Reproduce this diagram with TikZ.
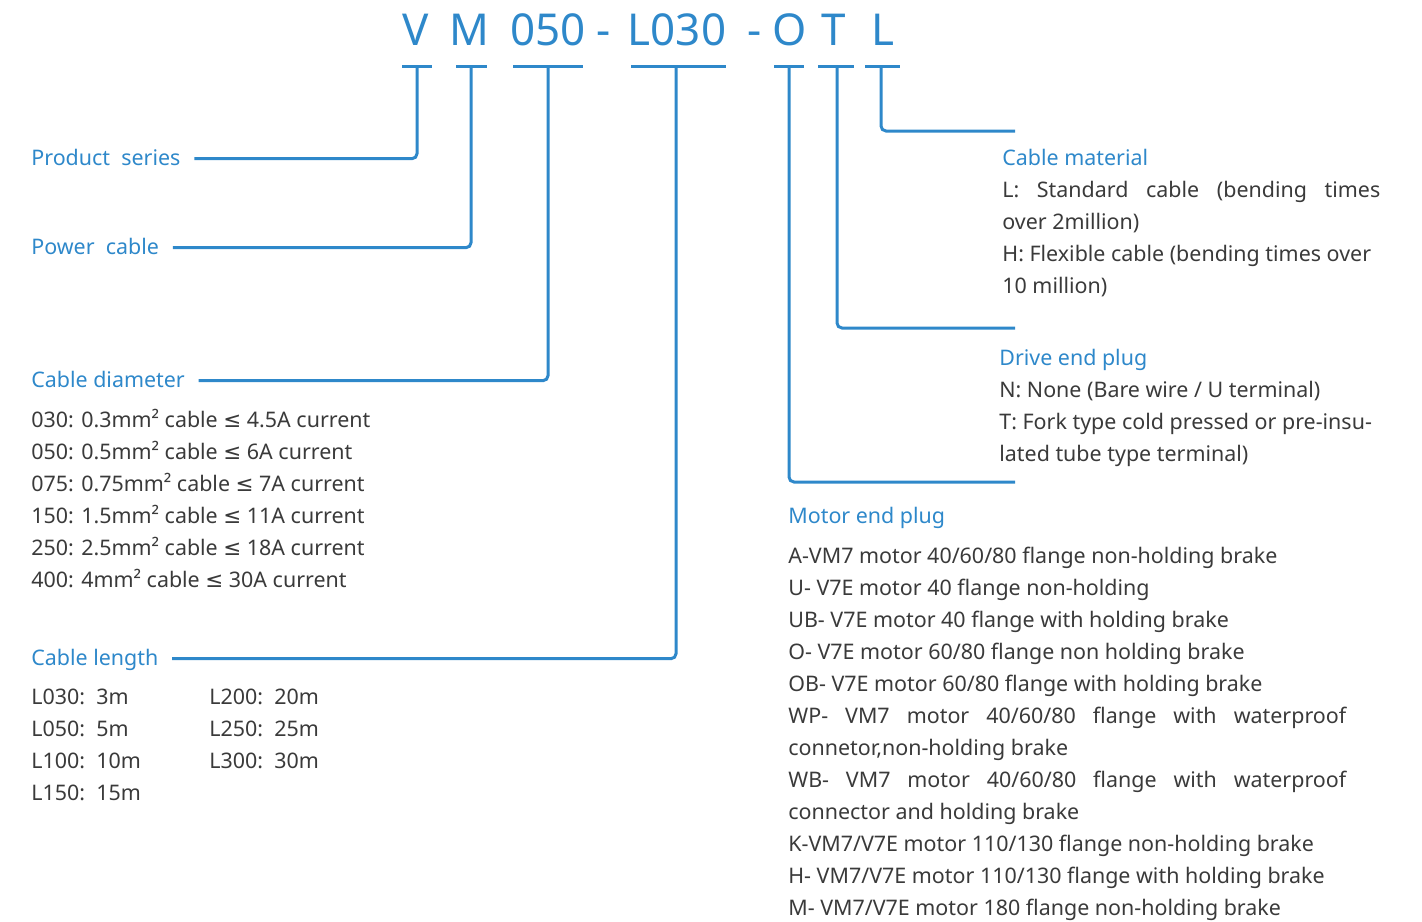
\documentclass[tikz,border=0pt]{standalone}
\usepackage{fontspec}
\setmainfont{Noto Sans}
\newfontfamily\symFont{DejaVu Sans}
\newcommand{\leSign}{{\symFont ≤}}

\begin{document}
\begin{tikzpicture}[x=0.02cm, y=-0.02cm]
    \definecolor{lineColour}{HTML}{2E88CA}
    \definecolor{textColour}{HTML}{3A3A3A}

    \tikzset{
        codeText/.style={text=lineColour, font=\fontsize{25}{30}\selectfont, anchor=base, inner sep=0pt},
        headText/.style={text=lineColour, font=\fontsize{12.2}{15}\selectfont, anchor=base west, inner sep=0pt, text height=0.72em, text depth=0pt},
        bodyText/.style={text=textColour, font=\fontsize{12.2}{15}\selectfont, anchor=base west, inner sep=0pt},
        bar/.style={lineColour, line width=1.7pt},
        link/.style={lineColour, line width=1.7pt, rounded corners=0.1cm},
    }

    \useasboundingbox (0,0) rectangle (1422,921);

    % Type code
    \foreach \name/\x/\t in {codeV/416/V, codeM/469/M, codeDia/548/050, codeDashA/604/-,
        codeLen/677/L030, codeDashB/755/-, codeO/790/O, codeT/834/T, codeL/883/L}
        \node[codeText] (\name) at (\x,45) {\t};

    % Bars under the code
    \foreach \name/\a/\b/\m in {V/402/432/417, M/456/487/471, Dia/513/583/548, Len/631/726/676,
        O/774/804/789, T/818/854/837, L/865/900/881} {
        \draw[bar] (\a,66) -- (\b,66);
        \coordinate (bar\name) at (\m,66);
    }

    % Left labels
    \node[headText] (labelSeries) at (31,165) {Product\ \ series};
    \node[headText] (labelPower) at (31,254) {Power\ \ cable};
    \node[headText] (labelDia) at (31,387) {Cable diameter};
    \node[headText] (labelLen) at (31,665) {Cable length};

    \draw[link] (barV) |- ([xshift=0.27cm]labelSeries.east);
    \draw[link] (barM) |- ([xshift=0.27cm]labelPower.east);
    \draw[link] (barDia) |- ([xshift=0.27cm]labelDia.east);
    \draw[link] (barLen) |- ([xshift=0.27cm]labelLen.east);

    % Cable diameter list
    \foreach \t [count=\i] in {030: 0.3mm² cable \leSign{} 4.5A current,
        050: 0.5mm² cable \leSign{} 6A current,
        075: 0.75mm² cable \leSign{} 7A current,
        150: 1.5mm² cable \leSign{} 11A current,
        250: 2.5mm² cable \leSign{} 18A current,
        400: 4mm² cable \leSign{} 30A current}
        \node[bodyText] (dia\i) at (31,{427+32*(\i-1)}) {\t};

    % Cable length list
    \foreach \t [count=\i] in {L030:\ \ 3m, L050:\ \ 5m, L100:\ \ 10m, L150:\ \ 15m}
        \node[bodyText] (lenA\i) at (31,{704+32*(\i-1)}) {\t};
    \foreach \t [count=\i] in {L200:\ \ 20m, L250:\ \ 25m, L300:\ \ 30m}
        \node[bodyText] (lenB\i) at (209,{704+32*(\i-1)}) {\t};

    % Right labels
    \coordinate (endL) at (1015,131);
    \coordinate (endT) at (1015,328);
    \coordinate (endO) at (1015,482);
    \draw[link] (barL) |- (endL);
    \draw[link] (barT) |- (endT);
    \draw[link] (barO) |- (endO);

    \node[headText] (labelMat) at (1002,165) {Cable material};
    \foreach \t [count=\i] in {{\makebox[7.56cm][s]{L: Standard cable (bending times}},
        over 2million),
        H: Flexible cable (bending times over,
        10 million)}
        \node[bodyText] (mat\i) at (1002,{197+32*(\i-1)}) {\t};

    \node[headText] (labelDrive) at (999,365) {Drive end plug};
    \foreach \t [count=\i] in {N: None (Bare wire / U terminal),
        T: Fork type cold pressed or pre-insu-,
        lated tube type terminal)}
        \node[bodyText] (drive\i) at (999,{397+32*(\i-1)}) {\t};

    \node[headText] (labelMotor) at (788,523) {Motor end plug};
    \foreach \t [count=\i] in {A-VM7 motor 40/60/80 flange non-holding brake,
        U- V7E motor 40 flange non-holding,
        UB- V7E motor 40 flange with holding brake,
        O- V7E motor 60/80 flange non holding brake,
        OB- V7E motor 60/80 flange with holding brake,
        {\makebox[11.16cm][s]{WP- VM7 motor 40/60/80 flange with waterproof}},
        {connetor,non-holding brake},
        {\makebox[11.16cm][s]{WB- VM7 motor 40/60/80 flange with waterproof}},
        connector and holding brake,
        K-VM7/V7E motor 110/130 flange non-holding brake,
        H- VM7/V7E motor 110/130 flange with holding brake,
        M- VM7/V7E motor 180 flange non-holding brake}
        \node[bodyText] (motor\i) at (788,{563+32*(\i-1)}) {\t};

\end{tikzpicture}
\end{document}
